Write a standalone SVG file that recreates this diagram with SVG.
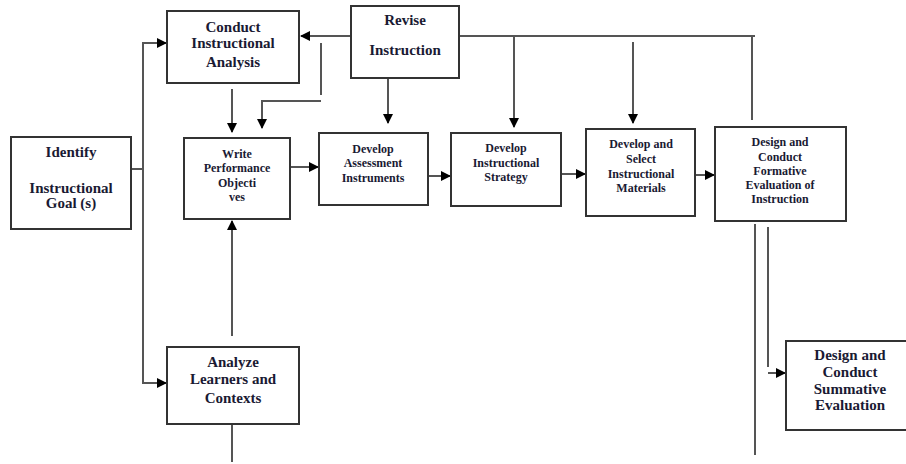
<svg xmlns="http://www.w3.org/2000/svg" width="906" height="464" viewBox="0 0 906 464">
<defs>
<marker id="ah" markerWidth="10" markerHeight="10" refX="9" refY="5" orient="auto" markerUnits="userSpaceOnUse">
<path d="M0,0 L10,5 L0,10 Z" fill="#000"/>
</marker>
</defs>
<style>
.box{fill:#fff;stroke:#333;stroke-width:2}
.t15{font-family:"Liberation Serif","Times New Roman",serif;font-weight:bold;font-size:15px;fill:#1a1a33;text-anchor:middle}
.t12{font-family:"Liberation Serif","Times New Roman",serif;font-weight:bold;font-size:12px;fill:#1a1a33;text-anchor:middle}
.ln{fill:none;stroke:#555;stroke-width:2}
.ar{fill:none;stroke:#555;stroke-width:2;marker-end:url(#ah)}
</style>
<rect width="906" height="464" fill="#fff"/>

<g id="connectors">
<path class="ln" d="M131,169 H143"/>
<path class="ar" d="M143,383 V43 H166"/>
<path class="ar" d="M143,373 V383 H166"/>
<path class="ar" d="M232,89 V132"/>
<path class="ar" d="M351,36 H301"/>
<path class="ln" d="M321,43 V95"/>
<path class="ar" d="M321,101 H262 V128"/>
<path class="ar" d="M388,78 V123"/>
<path class="ar" d="M290,167 H318"/>
<path class="ar" d="M428,176 H450"/>
<path class="ar" d="M561,174 H585"/>
<path class="ar" d="M695,175 H714"/>
<path class="ln" d="M459,36 H755"/>
<path class="ln" d="M752,36 V120"/>
<path class="ar" d="M514,37 V127"/>
<path class="ar" d="M633,42 V123"/>
<path class="ar" d="M232,336 V221"/>
<path class="ln" d="M232,412 V462"/>
<path class="ln" d="M755,224 V455"/>
<path class="ln" d="M768,227 V367"/>
<path class="ar" d="M768,373 H785"/>
</g>

<g id="conduct">
<rect class="box" x="167" y="11" width="132" height="72"/>
<text class="t15" x="233" y="32">Conduct</text>
<text class="t15" x="233" y="48">Instructional</text>
<text class="t15" x="233" y="67">Analysis</text>
</g>
<g id="revise">
<rect class="box" x="351" y="6" width="108" height="72"/>
<text class="t15" x="405" y="25">Revise</text>
<text class="t15" x="405" y="55">Instruction</text>
</g>
<g id="identify">
<rect class="box" x="11" y="137" width="120" height="92"/>
<text class="t15" x="71" y="157">Identify</text>
<text class="t15" x="71" y="193">Instructional</text>
<text class="t15" x="71" y="208">Goal (s)</text>
</g>
<g id="write">
<rect class="box" x="184" y="138" width="106" height="81"/>
<text class="t12" x="237" y="158">Write</text>
<text class="t12" x="237" y="172">Performance</text>
<text class="t12" x="237" y="187">Objecti</text>
<text class="t12" x="237" y="201">ves</text>
</g>
<g id="assessment">
<rect class="box" x="319" y="133" width="109" height="72"/>
<text class="t12" x="373" y="153">Develop</text>
<text class="t12" x="373" y="167">Assessment</text>
<text class="t12" x="373" y="182">Instruments</text>
</g>
<g id="strategy">
<rect class="box" x="451" y="133" width="110" height="73"/>
<text class="t12" x="506" y="152">Develop</text>
<text class="t12" x="506" y="167">Instructional</text>
<text class="t12" x="506" y="181">Strategy</text>
</g>
<g id="materials">
<rect class="box" x="586" y="129" width="109" height="87"/>
<text class="t12" x="641" y="148">Develop and</text>
<text class="t12" x="641" y="163">Select</text>
<text class="t12" x="641" y="178">Instructional</text>
<text class="t12" x="641" y="192">Materials</text>
</g>
<g id="formative">
<rect class="box" x="715" y="127" width="131" height="94"/>
<text class="t12" x="780" y="146">Design and</text>
<text class="t12" x="780" y="161">Conduct</text>
<text class="t12" x="780" y="175">Formative</text>
<text class="t12" x="780" y="189">Evaluation of</text>
<text class="t12" x="780" y="203">Instruction</text>
</g>
<g id="analyze">
<rect class="box" x="167" y="347" width="132" height="77"/>
<text class="t15" x="233" y="367">Analyze</text>
<text class="t15" x="233" y="384">Learners and</text>
<text class="t15" x="233" y="403">Contexts</text>
</g>
<g id="summative">
<rect class="box" x="786" y="341" width="130" height="89"/>
<text class="t15" x="850" y="360">Design and</text>
<text class="t15" x="850" y="377">Conduct</text>
<text class="t15" x="850" y="394">Summative</text>
<text class="t15" x="850" y="410">Evaluation</text>
</g>
</svg>
